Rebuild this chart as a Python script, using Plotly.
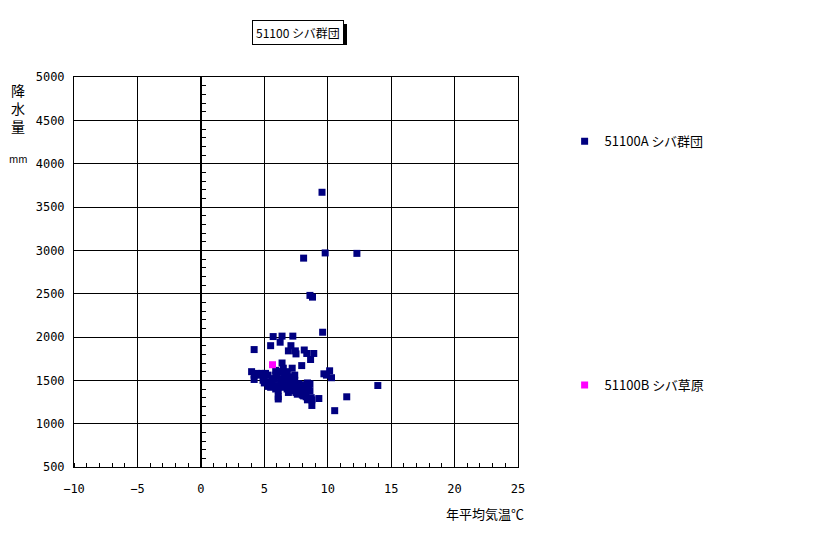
"""Scatter of annual mean temperature vs precipitation (Plotly)."""

import plotly.graph_objects as go

# 51100A シバ群団 : annual mean temperature (℃) / precipitation (mm)
temp_a = [
    9.55, 9.8, 12.3, 8.1, 8.6, 8.8, 9.6, 4.2, 5.7, 6.4, 7.25,
    5.5, 6.25, 7.1, 6.9, 7.45, 8.15, 7.5, 8.35, 8.9, 8.65, 7.95,
    6.4, 7.2, 6.4, 5.9, 9.7, 9.9, 10.15, 10.3, 13.95, 11.5, 10.55,
    9.3, 8.75, 8.75, 8.4, 8.3, 6.1, 6.1,
    4.0, 4.2, 4.2, 4.4, 4.6, 4.8, 5.0, 5.1, 5.3, 4.9, 5.0, 5.2,
    5.4, 5.5, 5.6, 5.8, 5.9, 6.0, 5.7, 5.9, 6.1, 6.3, 6.4, 6.5,
    6.6, 6.5, 6.8, 6.9, 6.7, 6.8, 7.0, 7.1, 7.2, 7.2, 7.4, 7.5,
    7.5, 7.6, 7.8, 7.9, 8.0, 8.1, 8.2, 8.3, 8.5, 8.6, 8.7, 7.0,
    6.9, 7.6, 6.3, 5.4, 5.6, 6.2, 6.7, 7.3, 7.7, 8.4, 8.6, 7.9,
    6.0, 6.6, 7.3, 7.0, 7.8, 8.2, 5.3, 6.8, 7.4, 8.0,
]
prec_a = [
    3670, 2970, 2965, 2910, 2480, 2460, 2055, 1855, 2005, 2010, 2010,
    1900, 1940, 1900, 1840, 1840, 1850, 1805, 1810, 1810, 1740, 1670,
    1700, 1640, 1600, 1615, 1575, 1560, 1610, 1530, 1440, 1310, 1150,
    1290, 1210, 1275, 1275, 1310, 1310, 1285,
    1600, 1560, 1510, 1580, 1560, 1580, 1540, 1580, 1560, 1500, 1470, 1480,
    1450, 1420, 1500, 1520, 1560, 1600, 1440, 1400, 1380, 1460, 1420, 1500,
    1540, 1640, 1580, 1520, 1450, 1400, 1380, 1440, 1480, 1540, 1500, 1420,
    1360, 1340, 1400, 1450, 1390, 1320, 1430, 1410, 1440, 1380, 1300, 1470,
    1360, 1460, 1520, 1480, 1470, 1440, 1500, 1420, 1460, 1470, 1460, 1440,
    1550, 1470, 1380, 1520, 1420, 1370, 1430, 1600, 1560, 1330,
]

# 51100B シバ草原
temp_b = [5.65]
prec_b = [1680]

x_ticks = [-10, -5, 0, 5, 10, 15, 20, 25]
y_ticks = [500, 1000, 1500, 2000, 2500, 3000, 3500, 4000, 4500, 5000]

FONT = "Noto Sans CJK JP"
TICK_FONT = dict(family="DejaVu Sans Mono", size=12, color="black")

# plot area in the reference: x 74..518, y 77..467 (page has an 8px body margin)
L, T, W, H = 66, 69, 444, 390


def px_x(px):
    return (px - 74) / W


def px_y(py):
    return (467 - py) / H


fig = go.Figure()
fig.add_trace(
    go.Scatter(
        x=temp_a, y=prec_a, mode="markers", name="51100A シバ群団",
        marker=dict(symbol="square", size=7, color="#000080"),
        legend="legend",
    )
)
fig.add_trace(
    go.Scatter(
        x=temp_b, y=prec_b, mode="markers", name="51100B シバ草原",
        marker=dict(symbol="square", size=7, color="#FF00FF"),
        legend="legend2",
    )
)
# empty trace so the inner axis at x=0 gets drawn
fig.add_trace(go.Scatter(x=[], y=[], yaxis="y2", showlegend=False, hoverinfo="skip"))

fig.update_layout(
    width=816,
    height=534,
    margin=dict(l=L, r=816 - L - W, t=T, b=534 - T - H),
    paper_bgcolor="white",
    plot_bgcolor="white",
    font=dict(family=FONT, size=12, color="black"),
    showlegend=True,
    xaxis=dict(
        range=[-10, 25], tickvals=x_ticks, showgrid=True, gridcolor="black",
        gridwidth=1, showline=True, linecolor="black", linewidth=1, mirror=True,
        zeroline=False, ticks="", ticklabelstandoff=11, tickfont=TICK_FONT,
        minor=dict(dtick=1, ticks="inside", ticklen=4, tickcolor="black", showgrid=False),
    ),
    yaxis=dict(
        range=[500, 5000], tickvals=y_ticks, showgrid=True, gridcolor="black",
        gridwidth=1, showline=True, linecolor="black", linewidth=1, mirror=True,
        zeroline=False, ticks="", ticklabelstandoff=6, tickfont=TICK_FONT,
    ),
    yaxis2=dict(
        # x=0 sits 126.9px into the plot; nudge to a pixel centre so the line stays crisp
        range=[500, 5000], overlaying="y", anchor="free", position=126.5 / W,
        side="left", showgrid=False, zeroline=False, showticklabels=False,
        showline=True, linecolor="black", linewidth=1,
        tickvals=y_ticks, ticks="inside", ticklen=4, tickcolor="black",
        minor=dict(dtick=100, ticks="inside", ticklen=4, tickcolor="black", showgrid=False),
    ),
    legend=dict(
        x=1.105, y=0.835, xanchor="left", yanchor="middle",
        bgcolor="rgba(0,0,0,0)", itemwidth=30, font=dict(size=13),
    ),
    legend2=dict(
        x=1.105, y=0.21, xanchor="left", yanchor="middle",
        bgcolor="rgba(0,0,0,0)", itemwidth=30, font=dict(size=13),
    ),
)

# drop shadow behind the title box
fig.add_shape(
    type="rect", xref="paper", yref="paper",
    x0=px_x(252), x1=px_x(347), y0=px_y(45), y1=px_y(24),
    fillcolor="black", line=dict(width=0), layer="above",
)

# title box (positions in reference pixels)
fig.add_annotation(
    x=298, y=33, text="51100 シバ群団",
    showarrow=False, font=dict(size=12, color="black"), bgcolor="white",
    borderpad=3, bordercolor="black", borderwidth=1,
)

# axis titles
fig.add_annotation(
    x=18, y=108, text="降<br>水<br>量", showarrow=False,
    font=dict(size=14), align="center",
)
fig.add_annotation(x=18, y=158, text="mm", showarrow=False, font=dict(size=10))
fig.add_annotation(x=485, y=513, text="年平均気温℃", showarrow=False, font=dict(size=13))

# convert reference-pixel placements of annotations into paper coords
for ann in fig.layout.annotations:
    px, py = ann.x, ann.y
    ann.x = px_x(px)
    ann.y = px_y(py)
    ann.xref = "paper"
    ann.yref = "paper"
    ann.xanchor = "center"
    ann.yanchor = "middle"

fig.write_html("out.html")
